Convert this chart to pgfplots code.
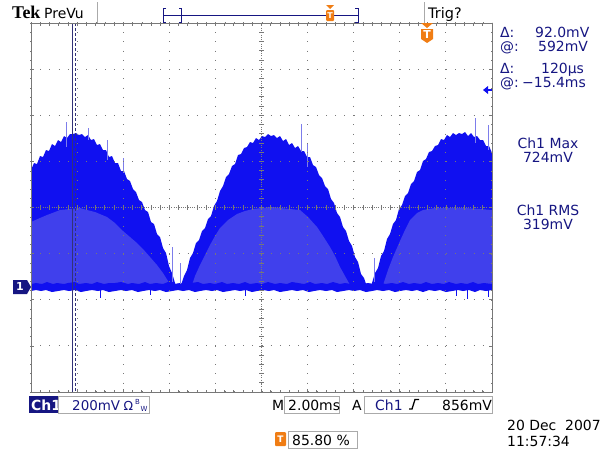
\documentclass[border=0pt]{standalone}
\usepackage{pgfplots}
\pgfplotsset{compat=1.18}
\usepackage{fontspec}
\setmainfont{DejaVu Sans}
\newfontfamily\tekfont{Liberation Serif}
\definecolor{trace}{RGB}{16,16,240}
\definecolor{tracelight}{RGB}{64,64,236}
\definecolor{spike}{RGB}{125,125,235}
\definecolor{navy}{RGB}{22,22,130}
\definecolor{gratcol}{RGB}{120,120,120}
\definecolor{tekorange}{RGB}{240,125,20}
\definecolor{cursorcol}{RGB}{50,50,120}
\definecolor{boxgray}{RGB}{170,170,170}
\begin{document}
\begin{tikzpicture}
\path[use as bounding box] (0,0) rectangle (614bp,-450bp);
\begin{axis}[
  at={(31bp,-392bp)}, anchor=south west,
  scale only axis, width=461bp, height=369bp,
  xmin=31, xmax=492, ymin=23, ymax=392, y dir=reverse,
  axis on top,
  xtick={31,77.1,123.2,169.3,215.4,261.5,307.6,353.7,399.8,445.9,492},
  ytick={23,69.1,115.3,161.4,207.5,253.6,299.8,345.9,392},
  minor x tick num=4, minor y tick num=4,
  xticklabels={}, yticklabels={},
  tick align=inside, major tick length=3bp, minor tick length=2.5bp,
  tick style={gratcol, line width=0.7bp},
  axis line style={gratcol, line width=0.9bp},
  grid=major,
  major grid style={gratcol, line width=1.1bp, dash pattern=on 1bp off 8.22bp},
  unbounded coords=jump,
]
% upper envelope of the rectified signal (dark trace)
\addplot[fill=trace, draw=none] coordinates {
(31,170) (34,163) (37,164) (40,156) (43,157) (46,150) (49,151) (52,144) (55,146) (58,140)
(61,142) (64,136) (67,138) (70,134) (73,134) (76,133) (79,135) (82,134) (85,137) (88,135)
(91,140) (94,139) (97,145) (100,144) (103,150) (106,150) (109,157) (112,156) (115,163) (118,163)
(121,171) (124,171) (127,179) (130,181) (133,189) (136,192) (139,200) (142,202) (145,210) (148,212)
(151,222) (154,224) (157,234) (160,237) (163,248) (166,253) (169,266) (172,273) (175,283) (178,289)
(181,285) (184,276) (187,270) (190,258) (193,253) (196,243) (199,240) (202,231) (205,228) (208,219)
(211,216) (214,206) (217,201) (220,191) (223,186) (226,177) (229,174) (232,166) (235,164) (238,155)
(241,154) (244,148) (247,147) (250,142) (253,143) (256,138) (259,140) (262,136) (265,137) (268,134)
(271,136) (274,135) (277,138) (280,136) (283,141) (286,139) (289,145) (292,143) (295,148) (298,146)
(301,151) (304,151) (307,157) (310,157) (313,165) (316,167) (319,175) (322,178) (325,186) (328,189)
(331,199) (334,203) (337,213) (340,217) (343,227) (346,231) (349,241) (352,246) (355,257) (358,262)
(361,274) (364,278) (367,287) (369,290)
(372,283) (375,273) (378,268) (381,256) (384,251) (387,239) (390,234) (393,224) (396,220) (399,209)
(402,205) (405,196) (408,193) (411,184) (414,181) (417,172) (420,170) (423,161) (426,159) (429,152)
(432,151) (435,146) (438,145) (441,139) (444,140) (447,135) (450,137) (453,133) (456,135) (459,133)
(462,134) (465,132) (468,136) (471,133) (474,137) (477,136) (480,140) (483,140) (486,146) (489,146)
(492,153) (492,288) (31,288)
} -- cycle;
% denser (lighter) inner region, hump 1
\addplot[fill=tracelight, draw=none] coordinates {
(31,222) (40,218) (47,215) (55,212) (60,210) (70,209) (80,208) (87,210) (95,212) (107,217)
(115,223) (123,231) (130,237) (137,243) (143,249) (150,257) (157,265) (163,273) (168,281) (170,285)
(31,285)
} -- cycle;
% hump 2
\addplot[fill=tracelight, draw=none] coordinates {
(192,285) (195,276) (200,265) (205,255) (210,245) (215,236) (220,228) (228,220) (237,214) (245,211)
(253,209) (262,208) (270,207) (280,208) (290,209) (300,210) (308,217) (317,227) (323,236) (330,247)
(335,256) (340,267) (345,276) (350,285)
} -- cycle;
% hump 3
\addplot[fill=tracelight, draw=none] coordinates {
(383,285) (388,270) (393,257) (400,241) (405,230) (410,220) (417,213) (423,210) (435,208) (450,208)
(465,208) (480,209) (492,210) (492,285)
} -- cycle;
% baseline noise band
\addplot[fill=trace, draw=none] coordinates {
(31,284) (36,283) (42,284) (47,282) (53,284) (57,283) (64,284) (68,283) (75,282) (79,284)
(86,283) (92,284) (97,282) (104,284) (109,283) (115,283) (121,282) (128,284) (132,283) (139,284)
(145,282) (150,284) (156,283) (163,284) (168,282) (174,284) (180,283) (186,284) (191,283) (198,282)
(203,284) (210,283) (215,284) (222,282) (227,284) (233,283) (239,284) (245,282) (250,284) (257,283)
(262,284) (268,282) (275,284) (280,283) (287,284) (292,282) (298,283) (304,284) (310,282) (315,284)
(322,283) (327,284) (333,282) (340,284) (345,283) (351,284) (357,282) (362,284) (368,283) (374,284)
(380,282) (385,284) (392,283) (397,284) (403,282) (409,284) (414,283) (421,284) (426,282) (432,284)
(438,283) (444,284) (449,282) (456,284) (461,283) (467,284) (473,282) (478,284) (484,283) (492,284)
(492,290) (486,291) (480,290) (475,292) (469,290) (463,291) (458,290) (452,291) (446,292) (440,290)
(435,291) (429,290) (423,292) (417,290) (412,291) (406,290) (400,291) (395,292) (389,290) (383,291)
(377,290) (372,291) (366,292) (360,290) (354,291) (349,290) (343,291) (337,292) (332,290) (326,291)
(320,290) (314,291) (309,292) (303,290) (297,291) (292,290) (286,291) (280,292) (274,290) (269,291)
(263,290) (257,291) (252,292) (246,290) (240,291) (235,290) (229,291) (223,292) (217,290) (212,291)
(206,290) (200,291) (195,292) (189,290) (183,291) (178,290) (172,291) (166,292) (160,290) (155,291)
(149,290) (143,291) (138,292) (132,290) (126,291) (121,290) (115,291) (109,292) (103,290) (98,291)
(92,290) (86,291) (81,292) (75,290) (69,291) (64,290) (58,291) (52,292) (46,290) (41,291) (36,290) (31,291)
} -- cycle;
% glitch spikes above the envelope
\addplot[spike, line width=1bp] table[row sep=\\] {
x y\\ 66 122\\ 66 147\\ nan nan\\ 88 128\\ 88 140\\ nan nan\\ 107 140\\ 107 160\\ nan nan\\
123 158\\ 123 173\\ nan nan\\ 172 247\\ 172 282\\ nan nan\\ 180 263\\ 180 284\\ nan nan\\
301 124\\ 301 152\\ nan nan\\ 307 143\\ 307 167\\ nan nan\\ 374 258\\ 374 282\\ nan nan\\
475 118\\ 475 143\\ nan nan\\ 488 125\\ 488 150\\
};
% downward spikes below the baseline
\addplot[trace, line width=1bp] table[row sep=\\] {
x y\\ 100 289\\ 100 298\\ nan nan\\ 150 290\\ 150 295\\ nan nan\\ 245 290\\ 245 296\\ nan nan\\
456 290\\ 456 296\\ nan nan\\ 467 290\\ 467 299\\ nan nan\\ 488 290\\ 488 297\\
};
% time cursors
\addplot[cursorcol, line width=1bp] coordinates {(72,23) (72,392)};
\addplot[cursorcol, line width=1bp, dash pattern=on 3bp off 2bp] coordinates {(75,23) (75,392)};
\end{axis}
\begin{scope}[x=1bp,y=-1bp]
% centre cross of the graticule
\draw[gratcol, line width=0.9bp, dash pattern=on 1bp off 1.3bp] (31,207.5) -- (492,207.5);
\draw[gratcol, line width=0.9bp, dash pattern=on 1bp off 1.3bp] (261.5,23) -- (261.5,392);
\foreach \i in {0,...,50} {\draw[gratcol, line width=0.7bp] ({31+\i*9.22},205) -- ({31+\i*9.22},210);}
\foreach \i in {0,...,40} {\draw[gratcol, line width=0.7bp] (259,{23+\i*9.225}) -- (264,{23+\i*9.225});}
% header
\node[anchor=base west, inner sep=0, font=\tekfont\bfseries\fontsize{18}{18}\selectfont] at (12,18) {Tek};
\node[anchor=base west, inner sep=0, font=\fontsize{14}{14}\selectfont] at (44,18) {PreVu};
\draw[boxgray, line width=0.8bp] (97,2) -- (97,23);
\draw[boxgray, line width=0.8bp] (424,2) -- (424,23);
\node[anchor=base west, inner sep=0, font=\fontsize{14.5}{14.5}\selectfont] at (428,18) {Trig?};
\draw[navy, line width=0.9bp] (163,15) -- (358,15);
\draw[navy, line width=0.9bp] (166,8) -- (163,8) -- (163,22) -- (166,22);
\draw[navy, line width=0.9bp] (355,8) -- (358,8) -- (358,22) -- (355,22);
\draw[navy, line width=0.9bp] (179,8) -- (181,8) -- (181,22) -- (179,22);
\fill[tekorange] (326,5) -- (334,5) -- (330,9) -- cycle;
\fill[tekorange, rounded corners=1bp] (326,10) rectangle (334,21);
\node[text=white, font=\bfseries\fontsize{8}{8}\selectfont, inner sep=0] at (330,15.5) {T};
% trigger position marker on graticule
\fill[tekorange] (421,23) -- (433,23) -- (427,28) -- cycle;
\fill[tekorange] (421,29) -- (433,29) -- (433,39) -- (427,43) -- (421,39) -- cycle;
\node[text=white, font=\bfseries\fontsize{11}{11}\selectfont, inner sep=0] at (427,35) {T};
% trigger level arrow
\fill[trace] (483,90) -- (488,86) -- (488,94) -- cycle;
\draw[trace, line width=1.6bp] (487,90) -- (492,90);
% channel 1 ground marker
\fill[navy] (13,280) -- (27,280) -- (31,287) -- (27,294) -- (13,294) -- cycle;
\node[text=white, font=\bfseries\fontsize{11}{11}\selectfont, inner sep=0] at (20,287) {1};
% right readouts
\begin{scope}[every node/.style={anchor=base west, inner sep=0, text=navy, font=\fontsize{14}{14}\selectfont}]
\node at (500,37) {Δ:};
\node at (535,37) {92.0mV};
\node at (500,51) {@:};
\node at (538,51) {592mV};
\node at (500,73) {Δ:};
\node at (541,73) {120µs};
\node at (500,87) {@:};
\node at (522,87) {−15.4ms};
\end{scope}
\begin{scope}[every node/.style={anchor=base, inner sep=0, text=navy, font=\fontsize{14}{14}\selectfont}]
\node at (548,148) {Ch1 Max};
\node at (548,162) {724mV};
\node at (548,215) {Ch1 RMS};
\node at (548,229) {319mV};
\end{scope}
% bottom status line
\fill[navy] (29,396) rectangle (58,413);
\node[anchor=base west, inner sep=0, text=white, font=\bfseries\fontsize{14}{14}\selectfont] at (31,410) {Ch1};
\draw[boxgray, line width=0.8bp] (58,396) rectangle (149,413);
\node[anchor=base west, inner sep=0, text=navy, font=\fontsize{13.5}{13.5}\selectfont] at (72,410) {200mV};
\node[anchor=base west, inner sep=0, text=navy, font=\fontsize{12.5}{12.5}\selectfont] at (123.5,410) {Ω};
\node[anchor=base west, inner sep=0, text=navy, font=\fontsize{7}{7}\selectfont] at (135,404) {B};
\node[anchor=base west, inner sep=0, text=navy, font=\fontsize{7}{7}\selectfont] at (140.5,411) {W};
\node[anchor=base west, inner sep=0, font=\fontsize{14}{14}\selectfont] at (272,410) {M};
\draw[boxgray, line width=0.8bp] (284,396) rectangle (339,413);
\node[anchor=base west, inner sep=0, font=\fontsize{14}{14}\selectfont] at (288,410) {2.00ms};
\node[anchor=base west, inner sep=0, font=\fontsize{14}{14}\selectfont] at (352,410) {A};
\draw[boxgray, line width=0.8bp] (364,396) rectangle (492,413);
\node[anchor=base west, inner sep=0, text=navy, font=\fontsize{14}{14}\selectfont] at (375,410) {Ch1};
\draw[line width=1.3bp] (409,409) -- (412,409) -- (415,399.5) -- (419,399.5);
\node[anchor=base west, inner sep=0, font=\fontsize{14}{14}\selectfont] at (442,410) {856mV};
% trigger position readout
\fill[tekorange, rounded corners=1bp] (275,432) rectangle (286,446);
\node[text=white, font=\bfseries\fontsize{9}{9}\selectfont, inner sep=0] at (280.5,439) {T};
\draw[boxgray, line width=0.8bp] (288,431) rectangle (357,448);
\node[anchor=base west, inner sep=0, font=\fontsize{14}{14}\selectfont] at (292,445) {85.80 \%};
% date and time
\node[anchor=base west, inner sep=0, font=\fontsize{14}{14}\selectfont] at (507,430) {20 Dec\ \ 2007};
\node[anchor=base west, inner sep=0, font=\fontsize{14}{14}\selectfont] at (507,446) {11:57:34};
\end{scope}
\end{tikzpicture}
\end{document}
